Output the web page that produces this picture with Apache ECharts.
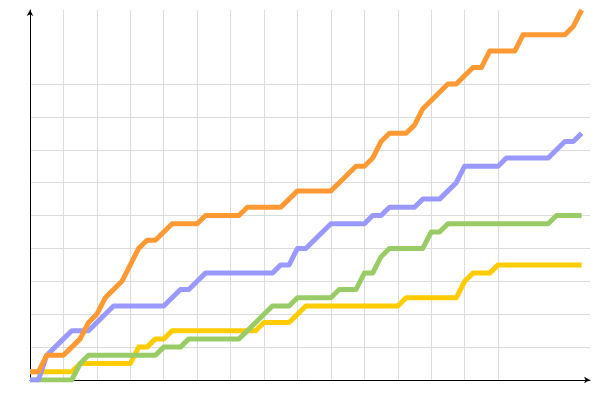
<!DOCTYPE html>
<html>
<head>
<meta charset="utf-8">
<script src="https://cdn.jsdelivr.net/npm/echarts@6/dist/echarts.min.js"></script>
<style>html,body{margin:0;padding:0;background:#fff}#c{width:600px;height:400px}</style>
</head>
<body>
<div id="c"></div>
<script>
// cumulative step values per series, one value per x step (0..66)
const orangeValues = [1,1,3,3,3,4,5,7,8,10,11,12,14,16,17,17,18,19,19,19,19,20,20,20,20,20,21,21,21,21,21,22,23,23,23,23,23,24,25,26,26,27,29,30,30,30,31,33,34,35,36,36,37,38,38,40,40,40,40,42,42,42,42,42,42,43,45];
const blueValues   = [0,0,3,4,5,6,6,6,7,8,9,9,9,9,9,9,9,10,11,11,12,13,13,13,13,13,13,13,13,13,14,14,16,16,17,18,19,19,19,19,19,20,20,21,21,21,21,22,22,22,23,24,26,26,26,26,26,27,27,27,27,27,27,28,29,29,30];
const greenValues  = [0,0,0,0,0,0,2,3,3,3,3,3,3,3,3,3,4,4,4,5,5,5,5,5,5,5,6,7,8,9,9,9,10,10,10,10,10,11,11,11,13,13,15,16,16,16,16,16,18,18,19,19,19,19,19,19,19,19,19,19,19,19,19,20,20,20,20];
const yellowValues = [1,1,1,1,1,1,2,2,2,2,2,2,2,4,4,5,5,6,6,6,6,6,6,6,6,6,6,6,7,7,7,7,8,9,9,9,9,9,9,9,9,9,9,9,9,10,10,10,10,10,10,10,12,13,13,13,14,14,14,14,14,14,14,14,14,14,14];
const xTicks = [0,4,8,12,16,20,24,28,32,36,40,44,48,52,56,60];
const yTicks = [0,4,8,12,16,20,24,28,32,36,40];

const pairs = arr => arr.map((v, i) => [i, v]);
const chart = echarts.init(document.getElementById('c'), null, {renderer: 'canvas'});
const axisCommon = {
  axisLabel: {show: false},
  axisTick: {show: false},
  axisLine: {show: true, onZero: false, lineStyle: {color: '#000', width: 1}, symbol: ['none', 'arrow'], symbolSize: [5, 6]},
  splitLine: {show: true, showMaxLine: false, lineStyle: {color: '#dcdcdc', width: 1}}
};
function mk(color, values) {
  return {
    type: 'line', data: pairs(values), showSymbol: false, symbol: 'none',
    lineStyle: {color: color, width: 5, join: 'round', cap: 'butt'},
    itemStyle: {color: color}
  };
}
chart.setOption({
  animation: false,
  backgroundColor: '#fff',
  grid: {left: 30, right: 10, top: 10, bottom: 20, containLabel: false},
  xAxis: Object.assign({type: 'value', min: 0, max: 67, interval: 4}, axisCommon, {
    axisTick: {show: false, customValues: xTicks}
  }),
  yAxis: Object.assign({type: 'value', min: 0, max: 45, interval: 4}, axisCommon, {
    axisTick: {show: false, customValues: yTicks}
  }),
  series: [
    mk('#ffcc00', yellowValues),
    mk('#99cc66', greenValues),
    mk('#9999ff', blueValues),
    mk('#ff9933', orangeValues)
  ]
});
</script>
</body>
</html>
